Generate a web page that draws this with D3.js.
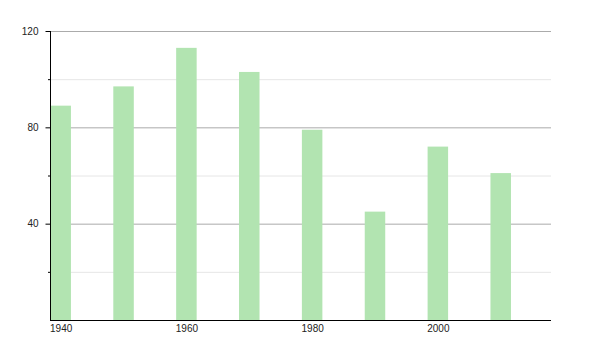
<!DOCTYPE html>
<html>
<head>
<meta charset="utf-8">
<script src="https://cdn.jsdelivr.net/npm/d3@7"></script>
<style>
  body { margin: 0; background: #fff; }
  text { font-family: "Liberation Sans", Arial, sans-serif; font-size: 10px; fill: #222; }
</style>
</head>
<body>
<div id="chart"></div>
<script>
// data
let years = [1940, 1950, 1960, 1970, 1980, 1990, 2000, 2010];
let values = [89, 97, 113, 103, 79, 45, 72, 61];
let xTickLabels = [1940, 1960, 1980, 2000];
let yMajorTicks = [40, 80, 120];
let yMinorTicks = [20, 60, 100];

let width = 600, height = 350;
let plotLeft = 50, plotRight = 551, plotTop = 31, plotBottom = 320;

let svg = d3.select("#chart").append("svg")
  .attr("width", width)
  .attr("height", height);

// soft edges on the bars
svg.append("defs").append("filter")
  .attr("id", "soft")
  .append("feGaussianBlur")
  .attr("stdDeviation", 0.6);

let x = d3.scaleLinear().domain([1938.3, 2018]).range([plotLeft, plotRight]);
let y = d3.scaleLinear().domain([0, 120]).range([plotBottom, plotTop]);

// gridlines
svg.selectAll("line.minor")
  .data(yMinorTicks)
  .enter().append("line")
  .attr("class", "minor")
  .attr("x1", plotLeft).attr("x2", plotRight)
  .attr("y1", d => y(d) + 0.5).attr("y2", d => y(d) + 0.5)
  .attr("stroke", "#e6e6e6");

svg.selectAll("line.major")
  .data(yMajorTicks)
  .enter().append("line")
  .attr("class", "major")
  .attr("x1", plotLeft).attr("x2", plotRight)
  .attr("y1", d => y(d) + 0.5).attr("y2", d => y(d) + 0.5)
  .attr("stroke", "#ababab");

// bars
let barW = 20.5;
svg.append("g")
  .attr("filter", "url(#soft)")
  .selectAll("rect")
  .data(years)
  .enter().append("rect")
  .attr("x", d => x(d) - barW / 2)
  .attr("y", (d, i) => y(values[i]))
  .attr("width", barW)
  .attr("height", (d, i) => y(0) - y(values[i]))
  .attr("fill", "#b2e4b1");

// y axis
let yAxis = svg.append("g")
  .attr("transform", `translate(${plotLeft + 0.5},0)`)
  .call(d3.axisLeft(y).tickValues(yMajorTicks).tickSize(5).tickPadding(7));
yAxis.select(".domain").attr("d", `M0,${plotTop}V${plotBottom}`).attr("stroke", "#000");
yAxis.selectAll(".tick line").attr("stroke", "#000");
yAxis.selectAll("text").attr("font-size", 10).attr("font-family", null);

svg.selectAll("line.minortick")
  .data(yMinorTicks)
  .enter().append("line")
  .attr("class", "minortick")
  .attr("x1", plotLeft - 2).attr("x2", plotLeft)
  .attr("y1", d => y(d) + 0.5).attr("y2", d => y(d) + 0.5)
  .attr("stroke", "#000");

// x axis
let xAxis = svg.append("g")
  .attr("transform", `translate(0,${plotBottom + 0.5})`)
  .call(d3.axisBottom(x).tickValues(xTickLabels).tickFormat(d3.format("d")).tickSize(0).tickPadding(4));
xAxis.select(".domain").attr("d", `M${plotLeft},0H${plotRight}`).attr("stroke", "#000");
xAxis.selectAll("text").attr("font-size", 10).attr("font-family", null);
</script>
</body>
</html>
